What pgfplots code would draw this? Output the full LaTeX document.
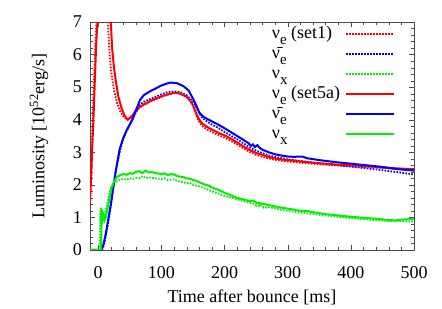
\documentclass[border=0pt]{standalone}
\usepackage{fontspec}
\setmainfont{Liberation Serif}
\usepackage{pgfplots}
\pgfplotsset{compat=1.18}
\definecolor{gred}{RGB}{255,0,0}
\definecolor{gblue}{RGB}{0,0,255}
\definecolor{ggreen}{RGB}{0,240,0}
\newcommand\sub[1]{\raisebox{-6bp}{\fontsize{15bp}{15bp}\selectfont #1}}
\begin{document}
\fontsize{18bp}{21bp}\selectfont
\begin{tikzpicture}
\useasboundingbox (0,0) rectangle (442bp,309bp);
\begin{axis}[
  at={(90bp,59bp)}, anchor=south west,
  scale only axis, width=324bp, height=228bp,
  xmin=-13, xmax=500, ymin=0, ymax=7,
  xtick={0,100,...,500}, ytick={0,1,...,7},
  minor x tick num=4, minor y tick num=4,
  tick align=inside, major tick length=5bp, minor tick length=3bp,
  axis line style={black!70}, tick style={black!70},
  /pgf/number format/assume math mode=true,
  xticklabel style={yshift=-10bp},
  yticklabel style={xshift=-2bp},
  xlabel={Time after bounce [ms]},
  ylabel={Luminosity [10\textsuperscript{52}erg/s]},
  every axis x label/.style={at={(axis description cs:0.5,-0.206)}, anchor=center},
  every axis y label/.style={at={(axis description cs:-0.157,0.5)}, rotate=90, anchor=center},
  legend plot pos=right,
  legend cell align=left,
  legend style={at={(axis description cs:0.942,0.982)}, anchor=north east, draw=none, fill=none,
    inner sep=0pt, outer sep=0pt, column sep=4bp,
    nodes={inner sep=1bp, text height=11bp, text depth=7bp}},
  legend image code/.code={\draw[#1] (0bp,2bp) -- (48bp,2bp);},
  dotstyle/.style={line width=1.8bp, dash pattern=on 1.6bp off 1.4bp},
]
% nu_e set1 (dotted)
\addplot[gred, dotstyle] coordinates {
(-13,1.9) (-11,2.8) (-9,3.8) (-7,5.0) (-5,6.1) (-3,7.0) (-1,8.2) (2,10.5) (5,12) (8,11.5) (11,9.6) (14,7.5) (16,6.7) (18,6.0) (21,5.4) (25,4.9) (30,4.5) (35,4.25) (40,4.1) (46,4.0)
(50,4.03) (55,4.12) (60,4.25) (66,4.38) (75,4.48) (85,4.58) (95,4.66) (105,4.74) (115,4.8) (122,4.83) (130,4.8) (140,4.7) (146,4.58) (150,4.45) (155,4.15) (160,3.92) (165,3.8) (172,3.7) (180,3.62) (190,3.53) (200,3.45) (210,3.35) (220,3.24) (230,3.12) (240,3.01) (250,2.92) (260,2.86) (270,2.81) (280,2.77) (290,2.74) (300,2.72) (320,2.68) (350,2.63) (400,2.57) (450,2.52) (500,2.45)};
\addlegendentry{ν\sub{e} (set1)}
% anti nu_e set1 (dotted)
\addplot[gblue, dotstyle] coordinates {
(-13,0) (6,0) (9,0.15) (13,0.55) (17,1.0) (21,1.5) (25,2.05) (29,2.55) (35,3.1) (40,3.45) (45,3.65) (50,3.85) (55,4.05) (60,4.25) (66,4.45) (72,4.55) (80,4.62) (90,4.7) (100,4.78) (110,4.85) (120,4.87) (130,4.85) (140,4.75) (148,4.6) (155,4.4) (160,4.2) (165,4.05) (172,3.95) (180,3.85) (190,3.75) (200,3.62) (220,3.4) (240,3.15) (250,3.05) (270,2.9) (300,2.78) (350,2.66) (400,2.56) (450,2.45) (500,2.32)};
\addlegendentry{ν̄\sub{e}}
% nu_x set1 (dotted)
\addplot[ggreen, dotstyle] coordinates {
(-13,0) (2,0) (3,0.6) (3.5,1.2) (4,0.7) (4.5,1.3) (5,0.85) (6,1.2) (7,0.95) (8,1.0) (10,1.05) (13,1.3) (16,1.6) (20,1.9) (25,2.05) (30,2.12) (35,2.16) (40,2.18) (45,2.16) (50,2.2) (55,2.18) (60,2.22) (65,2.2) (70,2.27) (75,2.21) (80,2.23) (90,2.2) (100,2.18) (105,2.2) (110,2.15) (120,2.17) (125,2.12) (130,2.1) (140,2.05) (145,2.06) (150,2.0) (160,1.95) (170,1.88) (180,1.8) (190,1.73) (200,1.66) (210,1.61) (220,1.55) (230,1.5) (240,1.45) (245,1.43) (250,1.36) (252,1.48) (255,1.32) (258,1.42) (262,1.3) (270,1.31) (280,1.28) (290,1.23) (300,1.2) (320,1.15) (340,1.1) (360,1.06) (380,1.02) (400,0.98) (430,0.93) (460,0.89) (500,0.87)};
\addlegendentry{ν\sub{x}}
% nu_e set5a (solid)
\addplot[gred, line width=2bp] coordinates {
(-13,1.5) (-11,2.3) (-9.5,3.1) (-7,4.3) (-5,5.4) (-3,6.4) (-1,7.1) (1,8) (4,10.5) (7,12) (10,12) (13,10.5) (16,8.6) (18,7.6) (20,7.0) (22,6.2) (25,5.6) (28,5.17) (32,4.7) (37,4.35) (42,4.12) (46.5,4.0)
(50,4.05) (55,4.15) (60,4.3) (66,4.4) (75,4.5) (85,4.6) (95,4.68) (105,4.75) (115,4.8) (120,4.83) (125,4.82) (130,4.8) (140,4.7) (145,4.6) (150,4.45) (155,4.2) (160,4.0) (165,3.88) (172,3.78) (180,3.7) (190,3.6) (200,3.52) (210,3.42) (220,3.3) (230,3.18) (240,3.07) (250,2.98) (260,2.92) (270,2.86) (280,2.81) (290,2.78) (300,2.76) (320,2.72) (340,2.68) (360,2.65) (380,2.62) (400,2.6) (420,2.58) (440,2.55) (460,2.52) (480,2.5) (500,2.48)};
\addlegendentry{ν\sub{e} (set5a)}
% anti nu_e set5a (solid)
\addplot[gblue, line width=2bp] coordinates {
(-13,0) (5,0) (8,0.15) (12,0.5) (16,0.95) (20,1.4) (24,1.94) (28,2.45) (34,3.1) (40,3.45) (45,3.68) (50,3.85) (55,4.04) (60,4.3) (66,4.6) (72,4.75) (80,4.85) (90,4.95) (100,5.05) (110,5.12) (115,5.14) (125,5.12) (135,5.03) (143,4.9) (150,4.65) (155,4.45) (160,4.22) (166,4.1) (172,4.03) (180,3.95) (190,3.85) (200,3.74) (210,3.62) (220,3.5) (230,3.38) (238,3.28) (242,3.2) (245,3.24) (248,3.16) (252,3.22) (256,3.13) (260,3.08) (270,3.0) (280,2.94) (290,2.9) (300,2.87) (310,2.86) (320,2.87) (325,2.86) (330,2.82) (350,2.76) (375,2.7) (400,2.65) (425,2.6) (450,2.55) (475,2.48) (500,2.44)};
\addlegendentry{ν̄\sub{e}}
% nu_x set5a (solid)
\addplot[ggreen, line width=2bp] coordinates {
(-13,0) (4,0) (5,0.5) (5.5,1.1) (6,0.8) (6.5,1.25) (7,0.9) (8,1.15) (9,0.95) (10,0.9) (12,1.0) (15,1.3) (18,1.6) (21,1.9) (25,2.1) (30,2.25) (35,2.3) (40,2.33) (45,2.31) (50,2.36) (55,2.34) (60,2.4) (65,2.42) (70,2.36) (75,2.44) (80,2.38) (85,2.4) (90,2.36) (95,2.35) (100,2.33) (105,2.35) (110,2.3) (115,2.33) (120,2.32) (125,2.27) (130,2.25) (135,2.24) (140,2.2) (145,2.19) (150,2.15) (155,2.13) (160,2.08) (170,2.0) (175,1.98) (180,1.92) (190,1.85) (200,1.76) (210,1.68) (220,1.6) (230,1.55) (240,1.5) (245,1.52) (250,1.46) (260,1.42) (270,1.38) (280,1.34) (290,1.3) (300,1.27) (310,1.24) (320,1.2) (330,1.2) (340,1.16) (360,1.1) (380,1.06) (400,1.02) (420,0.99) (440,0.96) (460,0.92) (470,0.91) (480,0.93) (500,0.96)};
\addlegendentry{ν\sub{x}}
\end{axis}
\end{tikzpicture}
\end{document}
